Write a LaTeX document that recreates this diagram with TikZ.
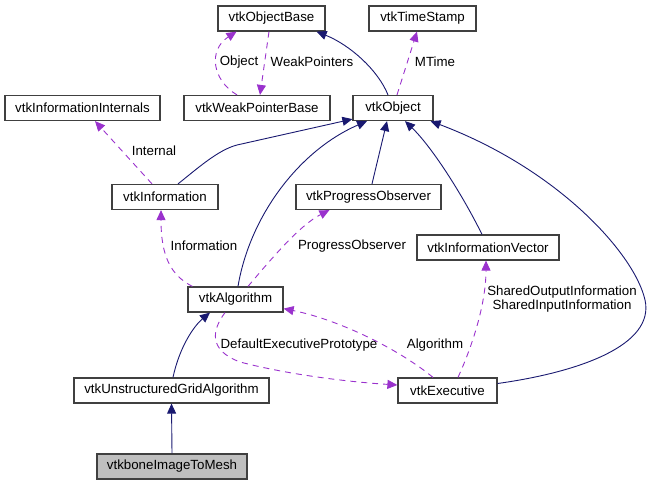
\documentclass[tikz,border=0pt]{standalone}
\usepackage{fontspec}
\setmainfont{Liberation Sans}
\usepackage{tikz}
\usetikzlibrary{arrows.meta, calc, shapes, positioning}
\definecolor{midnight}{HTML}{191970}
\definecolor{orchid}{HTML}{9A32CD}
\definecolor{boxgray}{HTML}{BFBFBF}

\begin{document}
\begin{tikzpicture}[x=1pt, y=-1pt,
		cls/.style={draw=black!75, line width=1.2pt, fill=white, inner sep=0pt, minimum height=25pt, font=\fontsize{13.3}{15}\selectfont},
		inherit/.style={midnight, line width=0.9pt, -{Triangle[length=10pt, width=9pt]}},
		usage/.style={orchid, line width=0.9pt, dash pattern=on 6pt off 5pt, -{Triangle[length=10pt, width=9pt]}},
		lbl/.style={inner sep=0pt, align=center, font=\fontsize{13.3}{14.5}\selectfont}]
			\useasboundingbox (0,0) rectangle (651,485);
			
			% Classes
			\node[cls, minimum width=107pt] (objbase) at (271.5,18.5) {vtkObjectBase};
			\node[cls, minimum width=107pt] (tstamp) at (422.5,18.5) {vtkTimeStamp};
			\node[cls, minimum width=155pt] (infint) at (82.5,108) {vtkInformationInternals};
			\node[cls, minimum width=146pt] (weakptr) at (257,108) {vtkWeakPointerBase};
			\node[cls, minimum width=80pt] (obj) at (393,108) {vtkObject};
			\node[cls, minimum width=106pt] (info) at (165,197) {vtkInformation};
			\node[cls, minimum width=145pt] (progobs) at (368.5,197) {vtkProgressObserver};
			\node[cls, minimum width=142pt] (infvec) at (488,247.5) {vtkInformationVector};
			\node[cls, minimum width=95pt] (algo) at (235.5,299.5) {vtkAlgorithm};
			\node[cls, minimum width=195pt] (ugalgo) at (171.5,390.5) {vtkUnstructuredGridAlgorithm};
			\node[cls, minimum width=99pt] (exec) at (447.5,390.5) {vtkExecutive};
			\node[cls, minimum width=150pt, fill=boxgray] (bone) at (172,466.5) {vtkboneImageToMesh};
			
			% Inheritance (solid)
			\draw[inherit] ([xshift=-5pt]obj.north) .. controls (378,70) and (350,45) .. ([xshift=-9pt]objbase.south east);
			\draw[inherit] ([xshift=13pt]info.north) .. controls (198,168) and (218,150) .. (237,145) -- ([yshift=2pt]obj.south west);
			\draw[inherit] ([xshift=2.5pt]algo.north) .. controls (250,215) and (300,150) .. ([xshift=-26pt]obj.south);
			\draw[inherit] ([xshift=3.5pt]progobs.north) -- ([xshift=-6pt]obj.south);
			\draw[inherit] ([xshift=-6pt]infvec.north) .. controls (460,190) and (430,145) .. ([xshift=12pt]obj.south);
			\draw[inherit] ([yshift=7pt]exec.east) .. controls (580,372) and (655,345) .. (645,300) .. controls (635,255) and (560,170) .. ([xshift=-3pt]obj.south east);
			\draw[inherit] ([xshift=1.5pt]ugalgo.north) .. controls (180,345) and (195,325) .. ([xshift=-25.5pt]algo.south);
			\draw[inherit] (bone.north) -- (ugalgo.south);
			
			% Usage (dashed)
			\draw[usage] ([xshift=4pt]obj.north) -- ([xshift=-5.5pt]tstamp.south);
			\draw[usage] ([xshift=-20pt]weakptr.north) .. controls (212,80) and (208,50) .. ([xshift=-35pt]objbase.south);
			\draw[usage] ([xshift=-2.5pt]objbase.south) -- ([xshift=3pt]weakptr.north);
			\draw[usage] ([xshift=-13pt]info.north) -- ([xshift=12.5pt]infint.south);
			\draw[usage] ([xshift=5pt]algo.north west) .. controls (170,275) and (161,255) .. ([xshift=-4pt]info.south);
			\draw[usage] ([xshift=12.5pt]algo.north) .. controls (272,258) and (300,225) .. ([xshift=34pt]progobs.south west);
			\draw[usage] ([xshift=10.5pt]exec.north) .. controls (475,340) and (486,300) .. ([xshift=-2pt]infvec.south);
			\draw[usage] ([xshift=-14.5pt]exec.north) .. controls (400,350) and (340,320) .. ([yshift=4pt]algo.south east);
			\draw[usage] ([xshift=-10.5pt]algo.south) .. controls (212,330) and (208,350) .. (240,362) .. controls (290,375) and (350,382) .. ([yshift=5.5pt]exec.west);
			
			% Labels
			\node[lbl] (lmtime) at (435,62) {MTime};
			\node[lbl] (lobject) at (239,62) {Object};
			\node[lbl] (lweak) at (312,62) {WeakPointers};
			\node[lbl] (linternal) at (154,151) {Internal};
			\node[lbl] (linfo) at (204,246) {Information};
			\node[lbl] (lprog) at (352,246) {ProgressObserver};
			\node[lbl] (lshared) at (562,299) {SharedOutputInformation\\SharedInputInformation};
			\node[lbl] (lalgo) at (435,345) {Algorithm};
			\node[lbl] (ldefault) at (299,345) {DefaultExecutivePrototype};
		\end{tikzpicture}
\end{document}
